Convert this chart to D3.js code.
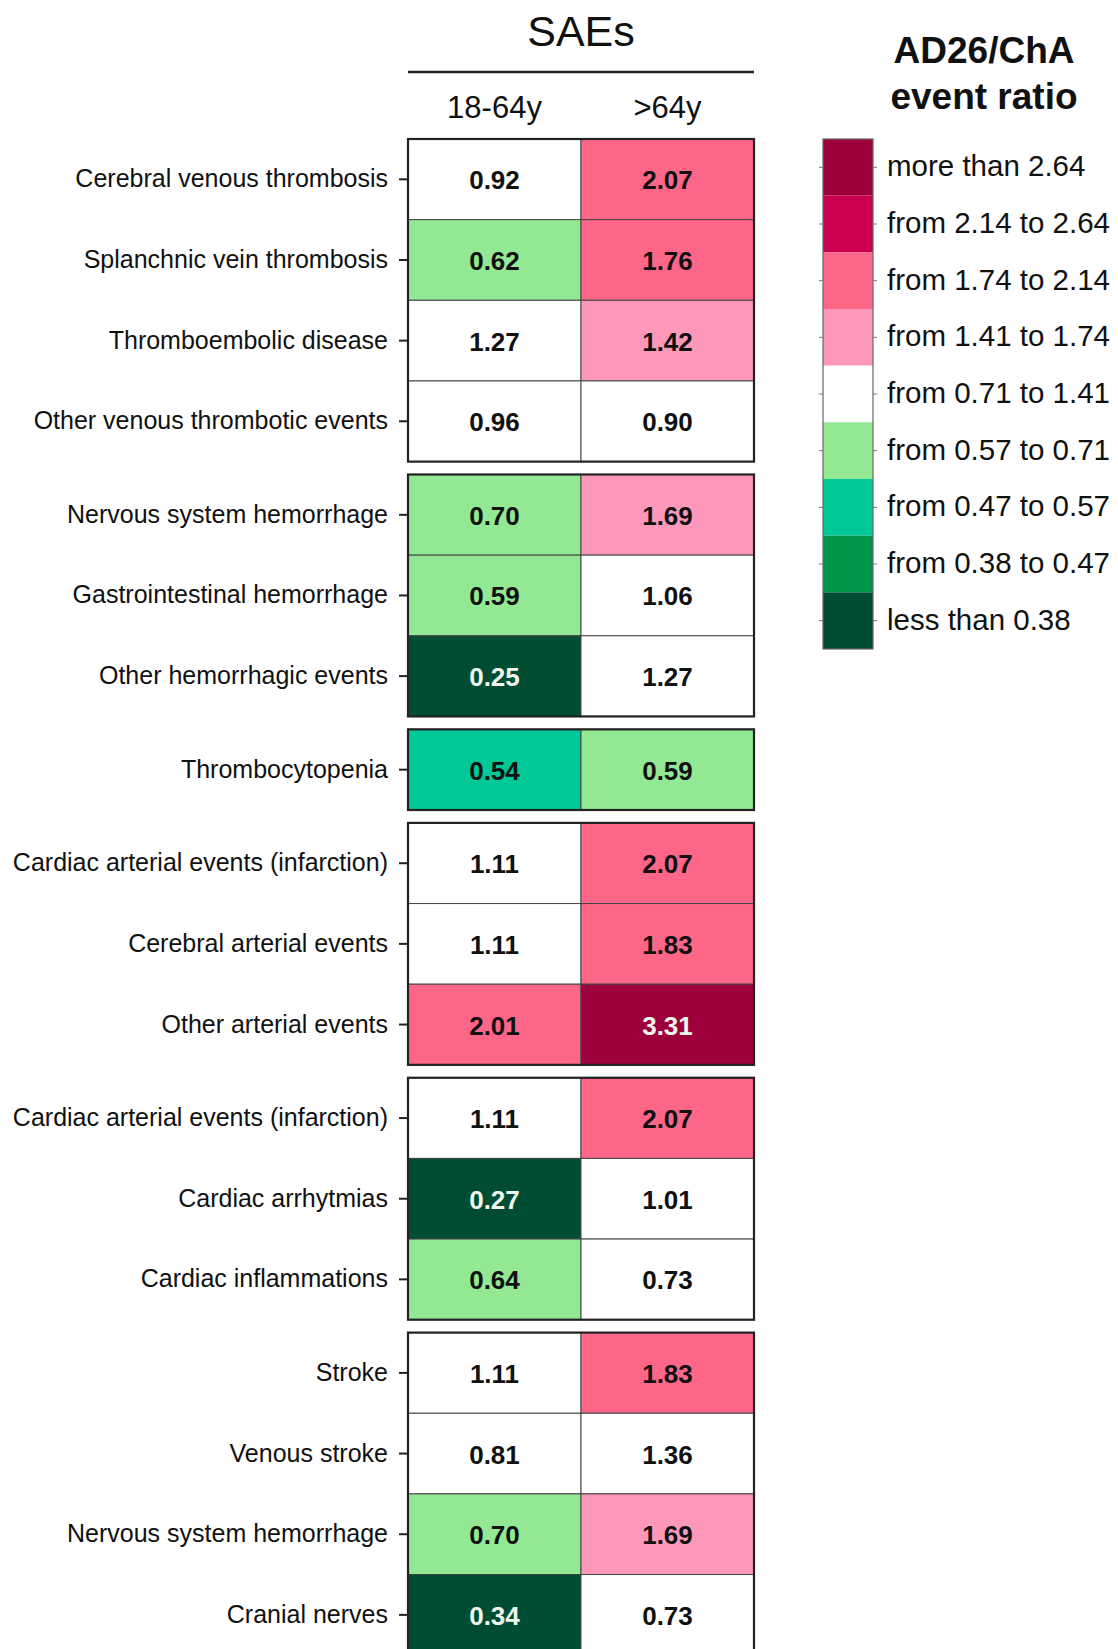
<!DOCTYPE html>
<html>
<head>
<meta charset="utf-8">
<script src="https://cdn.jsdelivr.net/npm/d3@7"></script>
<style>
  body { margin: 0; background: #fff; }
  svg { display: block; font-family: "Liberation Sans", Arial, sans-serif; }
</style>
</head>
<body>
<svg id="chart" width="1118" height="1649"></svg>
<script>
// ---- data ----
const columns = ["18-64y", ">64y"];
const groups = [
  ["Cerebral venous thrombosis", "Splanchnic vein thrombosis", "Thromboembolic disease", "Other venous thrombotic events"],
  ["Nervous system hemorrhage", "Gastrointestinal hemorrhage", "Other hemorrhagic events"],
  ["Thrombocytopenia"],
  ["Cardiac arterial events (infarction)", "Cerebral arterial events", "Other arterial events"],
  ["Cardiac arterial events (infarction)", "Cardiac arrhytmias", "Cardiac inflammations"],
  ["Stroke", "Venous stroke", "Nervous system hemorrhage", "Cranial nerves"]
];
const values1864 = [
  [0.92, 0.62, 1.27, 0.96],
  [0.70, 0.59, 0.25],
  [0.54],
  [1.11, 1.11, 2.01],
  [1.11, 0.27, 0.64],
  [1.11, 0.81, 0.70, 0.34]
];
const values64 = [
  [2.07, 1.76, 1.42, 0.90],
  [1.69, 1.06, 1.27],
  [0.59],
  [2.07, 1.83, 3.31],
  [2.07, 1.01, 0.73],
  [1.83, 1.36, 1.69, 0.73]
];
const thresholds = [0.38, 0.47, 0.57, 0.71, 1.41, 1.74, 2.14, 2.64];
const binColors = ["#004d33", "#00964a", "#00c896", "#93e893", "#ffffff", "#fe98bb", "#fe6687", "#cc0052", "#9e003c"];
const legendLabels = ["more than 2.64", "from 2.14 to 2.64", "from 1.74 to 2.14", "from 1.41 to 1.74",
  "from 0.71 to 1.41", "from 0.57 to 0.71", "from 0.47 to 0.57", "from 0.38 to 0.47", "less than 0.38"];
const titleText = "SAEs";
const legendTitle = ["AD26/ChA", "event ratio"];

// ---- layout ----
const svg = d3.select("#chart");
const left = 408, right = 754;
const top0 = 139, rowH = 80.65, gap = 12.9;

const color = d3.scaleThreshold().domain(thresholds).range(binColors);
const x = d3.scaleBand().domain(columns).range([left, right]).padding(0);

// flat rows
const rows = [];
let slot = 0;
groups.forEach((g, gi) => {
  g.forEach((label, ri) => {
    rows.push({ label, gi, slot, vals: [values1864[gi][ri], values64[gi][ri]] });
    slot++;
  });
});
const ySlot = d3.scaleLinear().domain([0, slot]).range([top0, top0 + slot * rowH]);
const yOf = (s, gi) => ySlot(s) + gi * gap;

// title
svg.append("text").attr("x", (left + right) / 2).attr("y", 46)
  .attr("text-anchor", "middle").attr("font-size", 43).attr("fill", "#111").text(titleText);
svg.append("line").attr("x1", left).attr("x2", right).attr("y1", 72).attr("y2", 72)
  .attr("stroke", "#222").attr("stroke-width", 2.5);

// column headers
svg.selectAll("text.col").data(columns).join("text").attr("class", "col")
  .attr("x", d => x(d) + x.bandwidth() / 2).attr("y", 118)
  .attr("text-anchor", "middle").attr("font-size", 31).attr("fill", "#111").text(d => d);

// cells
const cells = [];
rows.forEach(r => columns.forEach((c, ci) => cells.push({ r, c, v: r.vals[ci] })));

svg.selectAll("rect.cell").data(cells).join("rect").attr("class", "cell")
  .attr("x", d => x(d.c)).attr("y", d => yOf(d.r.slot, d.r.gi))
  .attr("width", x.bandwidth()).attr("height", rowH)
  .attr("fill", d => color(d.v))
  .attr("stroke", "#444").attr("stroke-width", 1);

svg.selectAll("text.val").data(cells).join("text").attr("class", "val")
  .attr("x", d => x(d.c) + x.bandwidth() / 2)
  .attr("y", d => yOf(d.r.slot, d.r.gi) + rowH / 2 + 10)
  .attr("text-anchor", "middle").attr("font-size", 26).attr("font-weight", "bold")
  .attr("fill", d => (d.v < 0.38 || d.v >= 2.64) ? "#eef6ee" : "#111")
  .text(d => d.v.toFixed(2));

// group outer borders
const groupStarts = [];
let s0 = 0;
groups.forEach((g, gi) => { groupStarts.push({ gi, start: s0, n: g.length }); s0 += g.length; });
svg.selectAll("rect.grp").data(groupStarts).join("rect").attr("class", "grp")
  .attr("x", left).attr("y", d => yOf(d.start, d.gi))
  .attr("width", right - left).attr("height", d => d.n * rowH)
  .attr("fill", "none").attr("stroke", "#222").attr("stroke-width", 2.2);

// row labels and ticks
svg.selectAll("line.tick").data(rows).join("line").attr("class", "tick")
  .attr("x1", left - 9).attr("x2", left)
  .attr("y1", d => yOf(d.slot, d.gi) + rowH / 2).attr("y2", d => yOf(d.slot, d.gi) + rowH / 2)
  .attr("stroke", "#222").attr("stroke-width", 2);
svg.selectAll("text.rowlab").data(rows).join("text").attr("class", "rowlab")
  .attr("x", left - 20).attr("y", d => yOf(d.slot, d.gi) + rowH / 2 + 8)
  .attr("text-anchor", "end").attr("font-size", 25).attr("fill", "#111").text(d => d.label);

// legend
svg.selectAll("text.ltitle").data(legendTitle).join("text").attr("class", "ltitle")
  .attr("x", 984).attr("y", (d, i) => 63 + i * 46)
  .attr("text-anchor", "middle").attr("font-size", 37).attr("font-weight", "bold").attr("fill", "#111")
  .text(d => d);

const legendColors = binColors.slice().reverse();
const ly = d3.scaleBand().domain(legendLabels).range([139, 649]).padding(0);
const lx = 823, lw = 50;
svg.selectAll("rect.leg").data(legendLabels).join("rect").attr("class", "leg")
  .attr("x", lx).attr("y", d => ly(d)).attr("width", lw).attr("height", ly.bandwidth())
  .attr("fill", (d, i) => legendColors[i]);
svg.append("rect").attr("x", lx).attr("y", 139).attr("width", lw).attr("height", 510)
  .attr("fill", "none").attr("stroke", "#666").attr("stroke-width", 1.2);
svg.selectAll("line.lt1").data(legendLabels).join("line").attr("class", "lt1")
  .attr("x1", lx - 4).attr("x2", lx).attr("y1", d => ly(d) + ly.bandwidth() / 2).attr("y2", d => ly(d) + ly.bandwidth() / 2)
  .attr("stroke", "#777").attr("stroke-width", 1);
svg.selectAll("line.lt2").data(legendLabels).join("line").attr("class", "lt2")
  .attr("x1", lx + lw).attr("x2", lx + lw + 4).attr("y1", d => ly(d) + ly.bandwidth() / 2).attr("y2", d => ly(d) + ly.bandwidth() / 2)
  .attr("stroke", "#777").attr("stroke-width", 1);
svg.selectAll("text.llab").data(legendLabels).join("text").attr("class", "llab")
  .attr("x", 887).attr("y", d => ly(d) + ly.bandwidth() / 2 + 9)
  .attr("font-size", 29.5).attr("fill", "#111").text(d => d);
</script>
</body>
</html>
